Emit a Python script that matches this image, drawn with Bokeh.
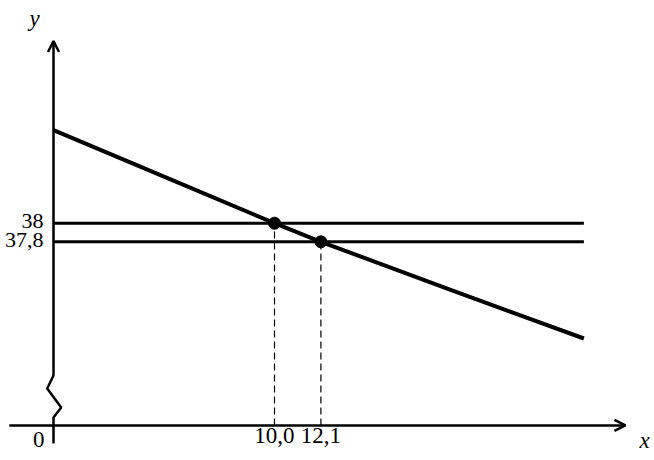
from bokeh.plotting import figure
from bokeh.models import Arrow, OpenHead, Range1d, ColumnDataSource
from bokeh.core.properties import value
from bokeh.embed import file_html
from bokeh.resources import INLINE

# where the two horizontal levels cross the falling line
cross_x = [10.0, 12.1]
cross_y = [38.0, 37.8]
x_tick_labels = ["10,0", "12,1"]
y_tick_labels = ["38", "37,8"]

# the falling line
line_x = [0.0, 5.0, 10.0, 12.1, 18.0, 24.0]
line_y = [39.0, 38.5, 38.0, 37.8, 37.28, 36.76]
x_end = 24.0

# axes (the y axis is broken just above the x axis)
x_axis_y = 35.825
x_axis_from, x_axis_to = -2.0, 25.88
y_axis_top = 39.96
break_x = [0.0, 0.0, -0.285, 0.348, 0.0, 0.0]
break_y = [36.36, 36.362, 36.223, 36.018, 35.911, 35.631]

FONT = value("Liberation Serif")

p = figure(width=654, height=460, output_backend="svg", toolbar_location=None,
           x_range=Range1d(-2.398, 27.195), y_range=Range1d(35.448, 40.395),
           min_border=0)
p.axis.visible = False
p.grid.visible = False
p.outline_line_color = None

# x axis
p.add_layout(Arrow(end=OpenHead(size=11, line_width=2.5, line_color="black"),
                   x_start=x_axis_from, y_start=x_axis_y, x_end=x_axis_to, y_end=x_axis_y,
                   line_width=2.5, line_color="black"))
# y axis with the break
p.add_layout(Arrow(end=OpenHead(size=11, line_width=2.5, line_color="black"),
                   x_start=0.0, y_start=break_y[0], x_end=0.0, y_end=y_axis_top,
                   line_width=2.5, line_color="black"))
p.line(break_x, break_y, line_width=2.5, color="black")

# horizontal levels
p.segment(x0=[0.0] * len(cross_y), y0=cross_y, x1=[x_end] * len(cross_y), y1=cross_y,
          line_width=3, color="black")

# dashed drops to the x axis
p.segment(x0=cross_x, y0=[x_axis_y] * len(cross_x), x1=cross_x, y1=cross_y,
          line_width=1.2, line_dash="7 4", color="black")

# falling line
p.line(line_x, line_y, line_width=4, color="black", line_join="round")

# crossing points
p.scatter(cross_x, cross_y, size=12, color="black")

# tick labels
xs = ColumnDataSource(dict(x=cross_x, y=[x_axis_y] * len(cross_x), t=x_tick_labels))
p.text("x", "y", text="t", source=xs, text_font=FONT, text_font_size="23px",
       text_align="center", text_baseline="top", y_offset=3, color="black")
ys = ColumnDataSource(dict(x=[0.0] * len(cross_y), y=cross_y, t=y_tick_labels))
p.text("x", "y", text="t", source=ys, text_font=FONT, text_font_size="22px",
       text_align="right", text_baseline="middle", x_offset=-10, y_offset=-2, color="black")
p.text([0.0], [x_axis_y], text=["0"], text_font=FONT, text_font_size="23px",
       text_align="right", text_baseline="top", x_offset=-9, y_offset=7, color="black")

# axis names
p.text([26.75], [x_axis_y], text=["x"], text_font=FONT, text_font_size="23px",
       text_font_style="italic", text_align="center", text_baseline="middle",
       y_offset=15, color="black")
p.text([-0.85], [y_axis_top], text=["y"], text_font=FONT, text_font_size="23px",
       text_font_style="italic", text_align="center", text_baseline="middle",
       y_offset=-22, color="black")

open("out.html", "w").write(file_html(p, INLINE))
